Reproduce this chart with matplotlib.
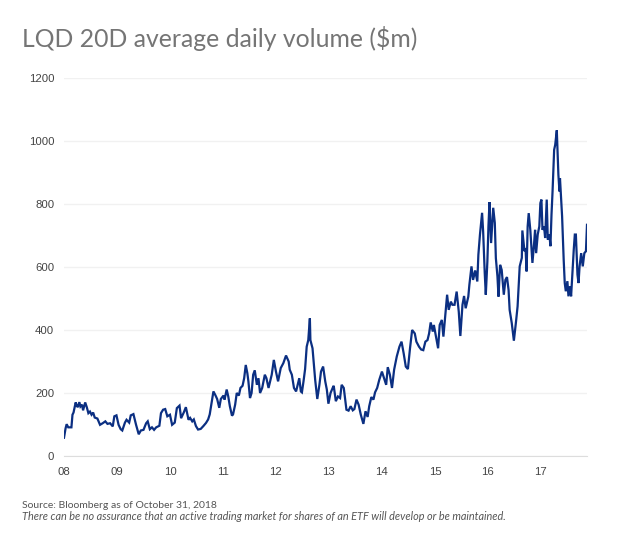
import matplotlib
matplotlib.use("Agg")
import matplotlib.pyplot as plt

# decimal year / 20 day avg volume
years = [2008.00, 2008.03, 2008.05, 2008.08, 2008.11, 2008.14, 2008.16, 2008.18, 2008.22, 2008.24, 2008.26, 2008.29,
         2008.31, 2008.34, 2008.36, 2008.40, 2008.43, 2008.46, 2008.49, 2008.52, 2008.55, 2008.58, 2008.63, 2008.68,
         2008.73, 2008.78, 2008.82, 2008.87, 2008.92, 2008.95, 2008.99, 2009.03, 2009.07, 2009.10, 2009.15, 2009.18,
         2009.23, 2009.26, 2009.31, 2009.36, 2009.41, 2009.45, 2009.50, 2009.55, 2009.58, 2009.62, 2009.66, 2009.70,
         2009.74, 2009.80, 2009.83, 2009.87, 2009.91, 2009.95, 2010.00, 2010.04, 2010.09, 2010.13, 2010.18, 2010.21,
         2010.26, 2010.30, 2010.35, 2010.38, 2010.42, 2010.45, 2010.49, 2010.53, 2010.58, 2010.63, 2010.68, 2010.72,
         2010.75, 2010.78, 2010.82, 2010.86, 2010.89, 2010.93, 2010.96, 2011.01, 2011.03, 2011.07, 2011.10, 2011.13,
         2011.17, 2011.19, 2011.23, 2011.26, 2011.30, 2011.33, 2011.37, 2011.40, 2011.43, 2011.46, 2011.48, 2011.51,
         2011.54, 2011.57, 2011.60, 2011.64, 2011.67, 2011.70, 2011.74, 2011.79, 2011.82, 2011.86, 2011.92, 2011.96,
         2012.00, 2012.04, 2012.09, 2012.14, 2012.19, 2012.24, 2012.26, 2012.30, 2012.34, 2012.38, 2012.41, 2012.44,
         2012.47, 2012.49, 2012.52, 2012.55, 2012.58, 2012.61, 2012.64, 2012.65, 2012.69, 2012.72, 2012.74, 2012.78,
         2012.82, 2012.85, 2012.89, 2012.93, 2012.96, 2012.99, 2013.03, 2013.07, 2013.09, 2013.13, 2013.17, 2013.21,
         2013.24, 2013.28, 2013.33, 2013.37, 2013.41, 2013.45, 2013.48, 2013.52, 2013.56, 2013.60, 2013.65, 2013.69,
         2013.73, 2013.76, 2013.80, 2013.84, 2013.87, 2013.91, 2013.95, 2014.00, 2014.04, 2014.08, 2014.11, 2014.15,
         2014.19, 2014.23, 2014.28, 2014.33, 2014.37, 2014.41, 2014.45, 2014.49, 2014.53, 2014.57, 2014.62, 2014.65,
         2014.70, 2014.74, 2014.78, 2014.82, 2014.86, 2014.89, 2014.92, 2014.96, 2014.98, 2015.02, 2015.06, 2015.09,
         2015.13, 2015.16, 2015.19, 2015.23, 2015.26, 2015.30, 2015.33, 2015.37, 2015.41, 2015.45, 2015.48, 2015.52,
         2015.55, 2015.58, 2015.63, 2015.65, 2015.69, 2015.72, 2015.76, 2015.80, 2015.82, 2015.85, 2015.89, 2015.91,
         2015.94, 2015.96, 2015.99, 2016.01, 2016.03, 2016.06, 2016.10, 2016.13, 2016.15, 2016.18, 2016.20, 2016.23,
         2016.26, 2016.30, 2016.33, 2016.36, 2016.39, 2016.41, 2016.45, 2016.49, 2016.53, 2016.56, 2016.60, 2016.64,
         2016.65, 2016.69, 2016.71, 2016.73, 2016.75, 2016.77, 2016.80, 2016.84, 2016.87, 2016.89, 2016.91, 2016.94,
         2016.97, 2016.99, 2017.01, 2017.03, 2017.06, 2017.08, 2017.11, 2017.13, 2017.16, 2017.18, 2017.20, 2017.22,
         2017.25, 2017.27, 2017.30, 2017.33, 2017.35, 2017.36, 2017.40, 2017.43, 2017.45, 2017.47, 2017.50, 2017.52,
         2017.55, 2017.57, 2017.62, 2017.64, 2017.66, 2017.69, 2017.71, 2017.73, 2017.76, 2017.79, 2017.82, 2017.85,
         2017.87]
volume = [58, 88, 101, 91, 91, 91, 131, 138, 170, 160, 155, 171,
          157, 163, 145, 170, 155, 136, 141, 131, 138, 122, 119, 99,
          104, 110, 102, 104, 94, 126, 129, 99, 85, 81, 106, 115,
          106, 129, 133, 99, 69, 81, 83, 104, 110, 85, 91, 83,
          91, 96, 136, 147, 149, 126, 131, 99, 106, 152, 160, 120,
          138, 155, 115, 121, 110, 116, 95, 84, 86, 95, 105, 116,
          132, 163, 205, 192, 181, 153, 181, 192, 179, 211, 189, 158,
          128, 132, 163, 200, 192, 216, 223, 247, 289, 263, 237, 184,
          200, 258, 272, 226, 247, 200, 216, 258, 247, 216, 258, 305,
          268, 237, 279, 295, 319, 300, 274, 258, 216, 205, 226, 247,
          205, 202, 237, 276, 347, 368, 437, 368, 342, 284, 242, 181,
          226, 268, 284, 237, 211, 166, 200, 216, 223, 174, 189, 184,
          226, 216, 147, 144, 158, 145, 149, 179, 163, 132, 102, 142,
          124, 158, 187, 179, 202, 216, 242, 268, 247, 226, 282, 258,
          216, 274, 316, 347, 363, 326, 284, 276, 342, 400, 389, 363,
          347, 338, 336, 363, 368, 389, 424, 395, 416, 379, 342, 416,
          432, 379, 437, 512, 464, 490, 480, 480, 522, 458, 381, 480,
          508, 469, 506, 543, 602, 559, 589, 554, 639, 703, 772, 713,
          581, 512, 618, 729, 806, 676, 788, 740, 628, 570, 506, 607,
          591, 512, 559, 568, 527, 464, 422, 366, 426, 475, 602, 629,
          716, 650, 660, 586, 729, 771, 718, 613, 671, 718, 644, 703,
          729, 803, 814, 718, 729, 692, 814, 687, 703, 666, 766, 840,
          972, 988, 1034, 893, 840, 882, 761, 623, 549, 523, 555, 507,
          539, 507, 655, 703, 703, 576, 549, 602, 644, 602, 644, 650,
          734]

year_ticks = [2008, 2009, 2010, 2011, 2012, 2013, 2014, 2015, 2016, 2017]
year_labels = ["08", "09", "10", "11", "12", "13", "14", "15", "16", "17"]
volume_ticks = [0, 200, 400, 600, 800, 1000, 1200]

fig = plt.figure(figsize=(6.2, 5.46), dpi=100)
ax = fig.add_axes([64 / 620, 1 - 456 / 546, 523 / 620, 378 / 546])

ax.plot(years, volume, color="#0b2f82", linewidth=1.6, solid_joinstyle="miter", zorder=3)

ax.set_xlim(2008, 2017.87)
ax.set_ylim(0, 1200)
ax.set_xticks(year_ticks)
ax.set_xticklabels(year_labels)
ax.set_yticks(volume_ticks)
ax.tick_params(length=0, labelsize=8.2, labelcolor="#444444")
ax.tick_params(axis="x", pad=8)
ax.tick_params(axis="y", pad=7)
for label in ax.get_xticklabels() + ax.get_yticklabels():
    label.set_family("Liberation Sans")

ax.grid(axis="y", color="#f1f1f1", linewidth=1)
ax.set_axisbelow(True)
for side in ["top", "right", "left"]:
    ax.spines[side].set_visible(False)
ax.spines["bottom"].set_color("#dddddd")

fig.text(22 / 620, 1 - 47 / 546, r"LQD 20D average daily volume (\$m)",
         family="Lato", weight="normal", fontsize=17.85, color="#757575")
fig.text(22 / 620, 1 - 508 / 546, "Source: Bloomberg as of October 31, 2018",
         family="Lato", fontsize=7.47, color="#555555")
fig.text(22 / 620, 1 - 520 / 546, "There can be no assurance that an active trading market for shares of an ETF will develop or be maintained.",
         family="Lato", style="italic", fontsize=7.85, color="#555555")

fig.savefig("out.png", dpi=100)
